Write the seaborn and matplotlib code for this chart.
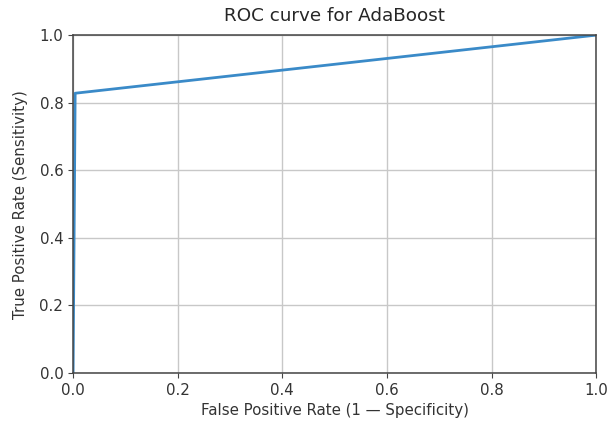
import pandas as pd
import seaborn as sns
import matplotlib.pyplot as plt

# ROC points
fpr = [0.0, 0.004, 1.0]
tpr = [0.0, 0.828, 1.0]

df = pd.DataFrame({"fpr": fpr, "tpr": tpr})

sns.set_style("ticks")
plt.rcParams['font.family'] = ['DejaVu Sans']

fig = plt.figure(figsize=(6.14, 4.23), dpi=100)
ax = fig.add_axes([0.119, 0.118, 0.852, 0.799])
sns.lineplot(data=df, x="fpr", y="tpr", ax=ax, color="#3a8ac8", linewidth=2.0,
             sort=False, estimator=None)
ax.set_xlim(0.0, 1.0)
ax.set_ylim(0.0, 1.0)
ax.grid(True, color="#c8c8c8", linewidth=1.0)
for s in ax.spines.values():
    s.set_visible(True)
    s.set_color("#444444")
    s.set_linewidth(1.1)
ax.tick_params(colors="#444444", labelcolor="#333333", labelsize=10.8, length=3.5)
ax.set_title("ROC curve for AdaBoost", fontsize=13.2, color="#262626", pad=10)
ax.set_xlabel("False Positive Rate (1 — Specificity)", fontsize=10.8, color="#333333",
              labelpad=4)
ax.set_ylabel("True Positive Rate (Sensitivity)", fontsize=10.8, color="#333333",
              labelpad=8)
fig.savefig("out.png", dpi=100)
plt.close()
